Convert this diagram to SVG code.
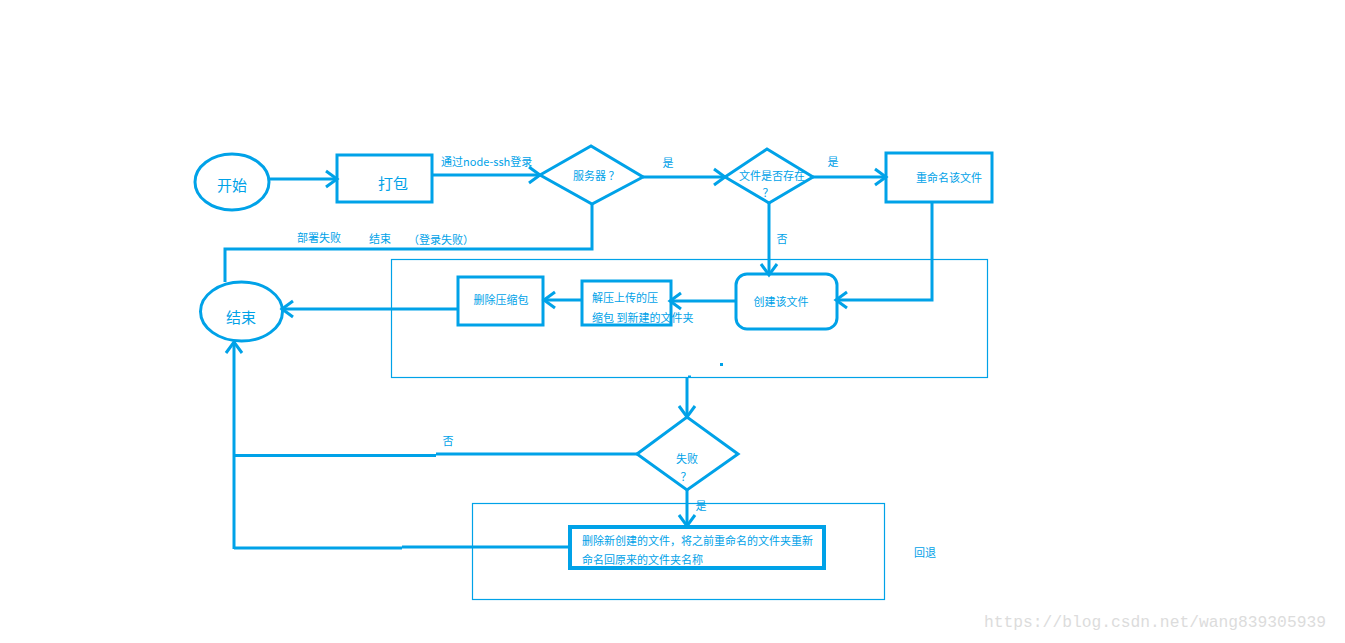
<svg xmlns="http://www.w3.org/2000/svg" width="1345" height="643" viewBox="0 0 1345 643">
<style>
.s{fill:none;stroke:#00a2e8;stroke-width:3}
.b4{fill:none;stroke:#00a2e8;stroke-width:4}
.thin{fill:none;stroke:#00a2e8;stroke-width:1.2}
.c{fill:none;stroke:#00a2e8;stroke-width:3}
.a{marker-end:url(#arr)}
text{font-family:"Noto Sans CJK SC","Noto Sans",sans-serif;fill:#00a2e8;font-size:11px;dominant-baseline:central}
.big{font-size:15px}
.m{text-anchor:middle}
.wm{font-family:"Liberation Mono",monospace;fill:#dcdcdc;font-size:16.3px;dominant-baseline:auto}
</style>
<defs>
<marker id="arr" markerUnits="userSpaceOnUse" markerWidth="16" markerHeight="20" viewBox="-13 -10 16 20" refX="0" refY="0" orient="auto" overflow="visible">
<path d="M-11,-8 L0,0 L-11,8" fill="none" stroke="#00a2e8" stroke-width="3"/>
</marker>
</defs>
<rect x="0" y="0" width="1345" height="643" fill="#ffffff"/>

<g id="group-upload">
<rect class="thin" x="391.5" y="259.5" width="596" height="118"/>
</g>
<g id="group-rollback">
<rect class="thin" x="472.5" y="503.5" width="412" height="96"/>
<text x="914" y="552">回退</text>
</g>

<g id="connectors">
<path class="c a" d="M269,179 H337"/>
<path class="c a" d="M432,175 H540"/>
<path class="c a" d="M643,177 H725"/>
<path class="c a" d="M813,177 H886"/>
<path class="c a" d="M932,202 V300 H836"/>
<path class="c a" d="M769,203 V275"/>
<path class="c a" d="M736,301 H670"/>
<path class="c a" d="M582,300 H544"/>
<path class="c a" d="M458,309 H282"/>
<path class="c" d="M592,204 V249 H225 V282"/>
<path class="c a" d="M687,377 V417"/>
<path class="c" d="M637,454 H436"/>
<path class="c" d="M436,455.5 H234"/>
<path class="c" d="M570,547 H402"/>
<path class="c" d="M402,548 H234"/>
<path class="c a" d="M234,549 V342"/>
<path class="c a" d="M687,490 V526"/>
<text x="441" y="161">通过node-ssh登录</text>
<text class="m" x="668" y="162">是</text>
<text class="m" x="833" y="161">是</text>
<text class="m" x="782" y="238">否</text>
<text x="297" y="237">部署失败</text>
<text x="369" y="238">结束</text>
<text x="408" y="239">（登录失败）</text>
<text class="m" x="448" y="440">否</text>
<text class="m" x="701" y="505">是</text>
</g>

<g id="node-start">
<ellipse class="s" cx="232" cy="182" rx="37" ry="28"/>
<text class="big m" x="232" y="184">开始</text>
</g>
<g id="node-pack">
<rect class="s" x="337" y="155" width="95" height="47"/>
<text class="big m" x="393" y="182">打包</text>
</g>
<g id="node-server">
<polygon class="s" points="540,175 591,146 643,177 592,204"/>
<text x="573" y="175">服务器 ？</text>
</g>
<g id="node-exists">
<polygon class="s" points="725,177 767,149 813,177 769,203"/>
<text x="739" y="175">文件是否存在</text>
<text class="m" x="768" y="192">？</text>
</g>
<g id="node-rename">
<rect class="s" x="886" y="153" width="106" height="49"/>
<text x="916" y="177">重命名该文件</text>
</g>
<g id="node-create">
<rect class="s" x="736" y="274" width="101" height="55" rx="11"/>
<text class="m" x="781" y="301">创建该文件</text>
</g>
<g id="node-unzip">
<rect class="s" x="582" y="281" width="89" height="44"/>
<text x="592" y="297">解压上传的压</text>
<text x="592" y="317">缩包 到新建的文件夹</text>
</g>
<g id="node-delzip">
<rect class="s" x="458" y="277" width="85" height="48"/>
<text class="m" x="501" y="299">删除压缩包</text>
</g>
<g id="node-end">
<ellipse class="s" cx="241.5" cy="311.5" rx="41" ry="29.5"/>
<text class="big m" x="241" y="316">结束</text>
</g>
<g id="node-fail">
<polygon class="s" points="637,454 687,417 738,454 687,490"/>
<text class="m" x="687" y="458">失败</text>
<text class="m" x="686" y="476">？</text>
</g>
<g id="node-revert">
<rect class="b4" x="570" y="527" width="254" height="41"/>
<text x="582" y="540">删除新创建的文件，将之前重命名的文件夹重新</text>
<text x="582" y="559">命名回原来的文件夹名称</text>
</g>

<rect x="720" y="363" width="3" height="3" fill="#00a2e8"/>
<rect x="688" y="375.5" width="3" height="2" fill="#00a2e8"/>

<text class="wm" x="984" y="627">https://blog.csdn.net/wang839305939</text>
</svg>
